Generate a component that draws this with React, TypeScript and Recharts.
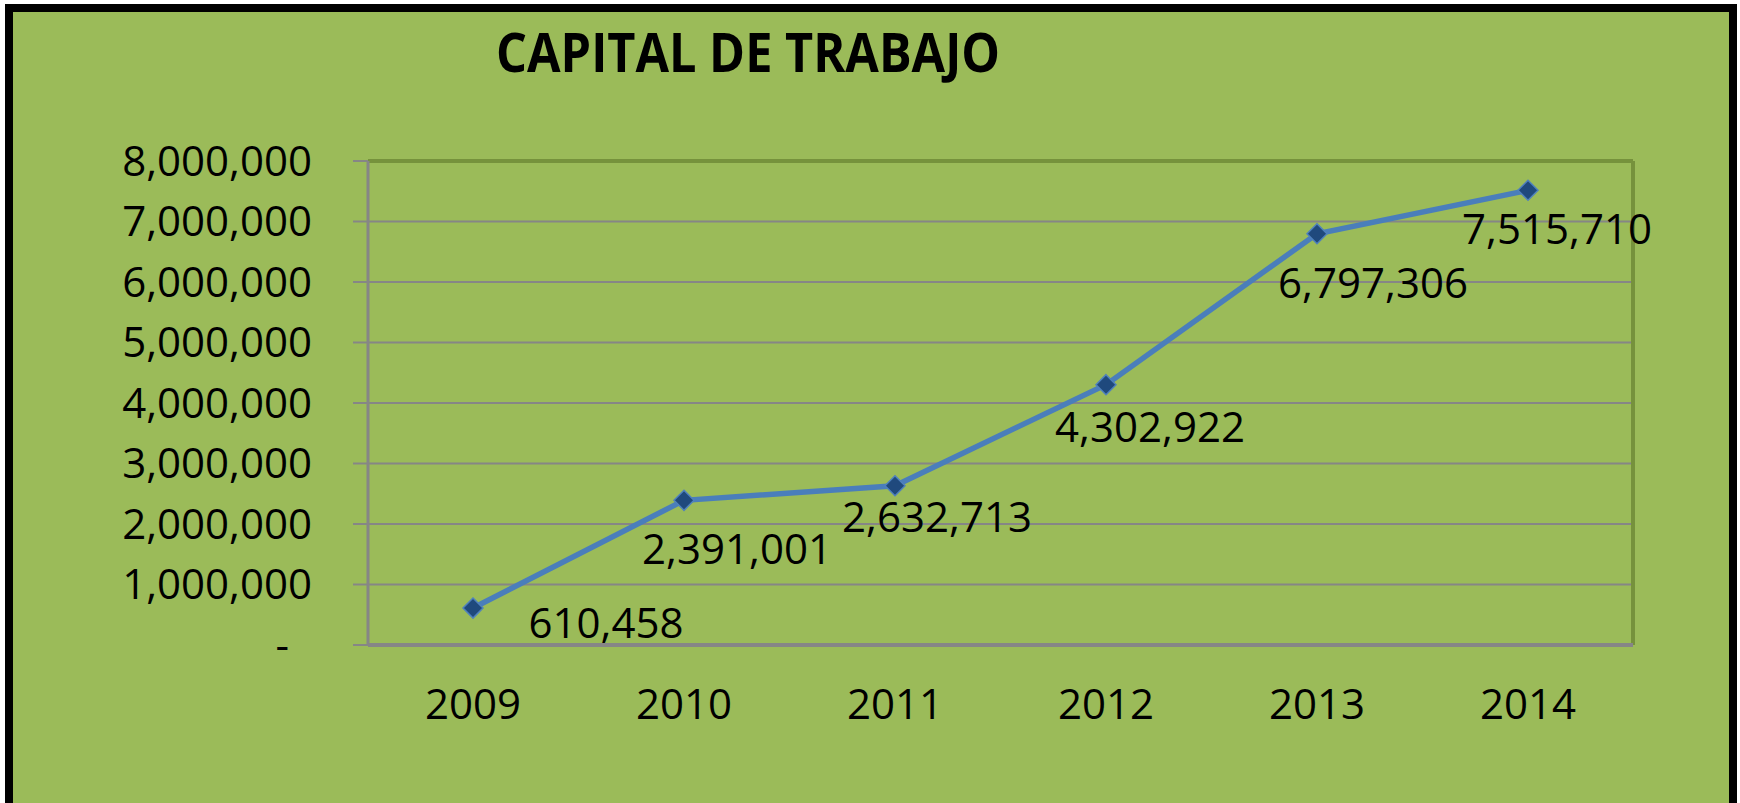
import React from 'react';
import { LineChart, Line, XAxis, YAxis, CartesianGrid, LabelList } from 'recharts';

const years = ['2009', '2010', '2011', '2012', '2013', '2014'];
const capitalTrabajo = [610458, 2391001, 2632713, 4302922, 6797306, 7515710];
const yTicks = [0, 1000000, 2000000, 3000000, 4000000, 5000000, 6000000, 7000000, 8000000];

// hand-placed label nudges (dx, dy from the marker), like the original sheet
const labelNudge = [
  [133, 15],
  [53, 49],
  [42, 31],
  [44, 42],
  [56, 49],
  [29, 39],
];

const data = years.map((year, i) => ({ year, value: capitalTrabajo[i] }));

const FONT = "'Open Sans', sans-serif";
const GRID = '#868686';
const OLIVE = '#76923C';

function fmt(v: number): string {
  return v.toLocaleString('en-US');
}

function YTick(props: any) {
  const { x, y, payload } = props;
  const isZero = payload.value === 0;
  return (
    <text
      x={isZero ? x - 23 : x}
      y={y}
      dy="0.355em"
      textAnchor="end"
      fill="#000"
      fontSize={42}
      fontFamily={FONT}
    >
      {isZero ? '-' : fmt(payload.value)}
    </text>
  );
}

function Diamond(props: any) {
  const { cx, cy, index } = props;
  if (cx == null || cy == null) return null;
  const r = 10;
  return (
    <path
      key={`d-${index}`}
      d={`M${cx},${cy - r} L${cx + r},${cy} L${cx},${cy + r} L${cx - r},${cy} Z`}
      fill="#1F497D"
      stroke="#4F81BD"
      strokeWidth={1.5}
    />
  );
}

function ValueLabel(props: any) {
  const { x, y, value, index } = props;
  const [dx, dy] = labelNudge[index] || [0, 20];
  return (
    <text
      x={x + dx}
      y={y + dy}
      dy="0.355em"
      textAnchor="middle"
      fill="#000"
      fontSize={42}
      fontFamily={FONT}
    >
      {fmt(Number(value))}
    </text>
  );
}

export default function App() {
  return (
    <div style={{ position: 'absolute', left: 0, top: 0, width: 1740, height: 803, overflow: 'hidden', background: '#fff' }}>
      <div
        style={{
          position: 'absolute',
          left: 5,
          top: 4,
          width: 1732,
          height: 820,
          boxSizing: 'border-box',
          border: '8px solid #000',
          background: '#9BBB59',
        }}
      />
      <svg style={{ position: 'absolute', left: 0, top: 0 }} width={1740} height={100}>
        <text
          x={496}
          y={72}
          textLength={504}
          lengthAdjust="spacingAndGlyphs"
          fontFamily={FONT}
          fontWeight={700}
          fontSize={54}
          fill="#000"
        >
          CAPITAL DE TRABAJO
        </text>
      </svg>
      <div style={{ position: 'absolute', left: 0, top: 0 }}>
        <LineChart width={1740} height={803} data={data} margin={{ top: 160, right: 106, bottom: 58, left: 0 }}>
          <CartesianGrid vertical={false} stroke={GRID} strokeWidth={2} yAxisId="left" xAxisId="main" />
          <XAxis
            xAxisId="top"
            dataKey="year"
            orientation="top"
            height={1}
            tick={false}
            tickLine={false}
            axisLine={{ stroke: OLIVE, strokeWidth: 4 }}
            padding={{ left: 105, right: 105 }}
          />
          <YAxis
            yAxisId="right"
            orientation="right"
            width={1}
            domain={[0, 8000000]}
            tick={false}
            tickLine={false}
            axisLine={{ stroke: OLIVE, strokeWidth: 4 }}
          />
          <XAxis
            xAxisId="main"
            dataKey="year"
            height={100}
            tickSize={0}
            tickMargin={44}
            tickLine={false}
            axisLine={{ stroke: GRID, strokeWidth: 4 }}
            padding={{ left: 105, right: 105 }}
            tick={{ fill: '#000', fontSize: 42, fontFamily: FONT }}
          />
          <YAxis
            yAxisId="left"
            width={368}
            domain={[0, 8000000]}
            ticks={yTicks}
            interval={0}
            tickSize={15}
            tickMargin={41}
            tickLine={{ stroke: GRID, strokeWidth: 2 }}
            axisLine={{ stroke: GRID, strokeWidth: 3 }}
            tick={<YTick />}
          />
          <Line
            xAxisId="main"
            yAxisId="left"
            type="linear"
            dataKey="value"
            stroke="#4A7EBB"
            strokeWidth={5.5}
            dot={<Diamond />}
            activeDot={false}
            isAnimationActive={false}
          >
            <LabelList dataKey="value" content={<ValueLabel />} />
          </Line>
        </LineChart>
      </div>
    </div>
  );
}
